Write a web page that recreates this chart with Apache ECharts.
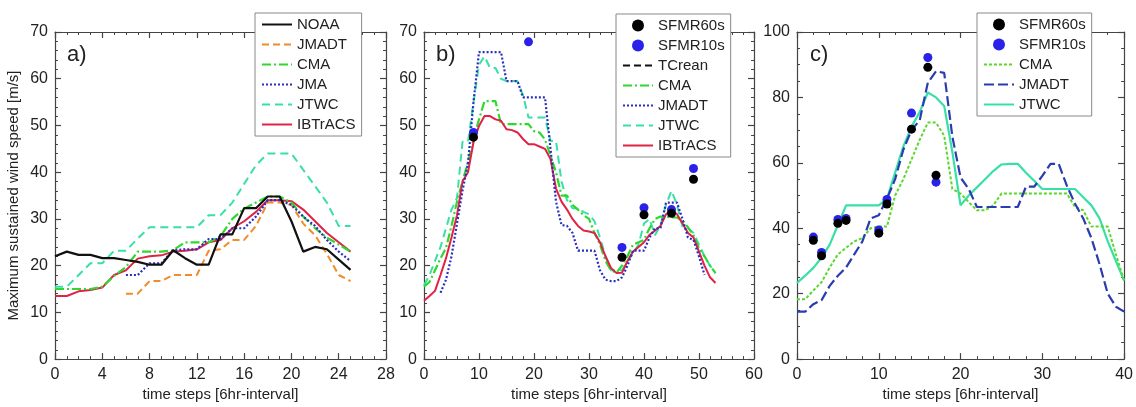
<!DOCTYPE html>
<html><head><meta charset="utf-8">
<script src="https://cdn.jsdelivr.net/npm/echarts@6/dist/echarts.min.js"></script>
<style>html,body{margin:0;padding:0;background:#fff}#c{width:1136px;height:407px}</style>
</head><body><div id="c"></div>
<script>
// ---------- Panel a (start time step of each series given separately) ----------
const aNOAA_t0 = 0;
const aNOAA = [22.0,23.0,22.3,22.3,21.6,21.6,21.2,20.8,20.2,20.2,23.3,21.6,20.2,20.2,26.7,26.7,32.3,32.3,34.8,34.8,29.5,23.0,24.0,23.5,21.3,19.1];
const aJMADT_t0 = 6;
const aJMADT = [14.0,14.0,16.7,16.7,18.0,18.0,18.0,23.2,23.5,25.5,25.5,28.5,33.5,33.5,33.0,29.0,26.5,22.5,18.0,16.7];
const aCMA_t0 = 0;
const aCMA = [15.0,15.0,15.0,15.0,15.5,17.8,19.7,23.0,23.0,23.0,23.3,25.0,25.0,25.0,26.3,30.0,32.2,33.5,34.8,34.8,33.5,30.5,28.0,26.0,24.5,23.0];
const aJMA_t0 = 6;
const aJMA = [18.0,18.0,20.5,20.5,23.3,23.5,23.5,25.7,25.7,28.0,28.0,30.5,34.0,34.0,33.0,30.5,28.5,25.5,23.0,21.0];
const aJTWC_t0 = 0;
const aJTWC = [15.5,15.5,18.0,20.5,20.5,23.2,23.2,25.8,28.2,28.2,28.2,28.2,28.2,30.8,30.8,33.5,37.5,41.5,44.0,44.0,44.0,40.5,37.0,33.5,28.5,28.5];
const aIBT_t0 = 0;
const aIBT = [13.5,13.5,14.5,14.8,15.3,18.0,19.0,21.5,22.0,22.2,23.0,23.2,23.5,25.0,25.5,28.0,29.5,31.5,34.0,34.0,33.8,32.0,29.5,27.0,25.0,23.0];

// ---------- Panel b ----------
const bIBT_t0 = 0;
const bIBT = [12.5,13.5,14.6,18,21.6,26,30.8,38,40,46.4,49.9,52,52,51.3,51,49.2,49,48.5,47.1,46,46,45.5,45,42.8,36.5,33.7,32,30,28.5,27.5,27.3,27,25,22,19.5,18.4,18.5,21,23,24,25,26.6,27.5,28.5,31,31.9,31,29,27,26,23,20,17.5,16.3];
const bCMA_t0 = 0;
const bCMA = [15.5,16.5,19,21.5,23.8,28.5,33.7,38,42.2,47,51.3,55.2,55.2,55.2,50.3,50.3,50.3,50.3,50.3,50.3,48.8,48.5,47,43.5,40,35,35,33,32,30.8,30,27,24.5,21,19,18.5,20,22,24.5,25,25.5,28,30,30.5,30.5,30.3,30.3,29.6,28.2,26.5,23.8,22,20,18.4];
const bJTWC_t0 = 0;
const bJTWC = [15.8,18,21,24,28,32,34.5,46.5,46.5,55,63,64.8,62.3,62.3,60,59.5,59.5,59.5,56.5,51.7,51.7,51.7,51.7,46.7,46.7,38,34,32.3,32.3,31.5,31,29.5,26,22,19,19,19,21,22.5,24.5,29,30,26.5,28.7,33,36,33,28.4,28,27,24.5,22,20,18.4];
const bJMADT_t0 = 3;
const bJMADT = [14.2,17,22,29,36,42,55,65.7,65.7,65.7,65.7,65.7,59.5,59.5,59.5,56,56,56,56,56,45,33.7,28.7,28.5,27,23.2,23.2,23.2,23.2,19,17,16.7,16.7,17.5,20,23.2,23.2,23.2,26,28,28,33.5,33.5,33.5,30,26,25.5,22,18];
const bTCrean = [];
const bSFMR60_t = [9,36,40,45,49];
const bSFMR60 = [47.5,21.8,30.9,31.2,38.5];
const bSFMR10_t = [9,19,36,40,45,49];
const bSFMR10 = [48.5,67.9,23.9,32.4,32.0,40.8];

// ---------- Panel c ----------
const cCMA_t0 = 0;
const cCMA = [18.3,18.3,21,23.5,28,32,34,36,37,40,40.5,40.5,50,55,61,67,72.3,72.3,68.3,52,50.6,48,45.5,45.5,47,50.6,50.6,50.6,50.6,50.6,50.6,50.6,50.6,50.6,46.5,45.5,40.5,40.5,40.5,32,24];
const cJMADT_t0 = 0;
const cJMADT = [14.5,14.5,16.8,18,22.4,25.5,28,32,36,43,44,49,55,64,70,73,84.5,88,87.5,68,55.5,52,46.5,46.5,46.5,46.5,46.5,46.5,52.7,52.7,56,59.7,59.7,53,47.5,43,37,29,20,16,14.5];
const cJTWC_t0 = 0;
const cJTWC = [23.3,25.5,27.9,31,35,41,47,47,47,47,47,49,57,65,71,75.5,81.5,80,77.4,63.3,47,50,52.5,55,57.5,59.5,59.7,59.7,57,54.5,52,52,52,52,52,49.5,47,43,36,30,24];
const cSFMR_t = [2,3,5,6,10,11,14,16,17];
const cSFMR60 = [36.3,31.6,41.5,42.4,38.5,47.4,70.3,89.2,56.2];
const cSFMR10 = [37.3,32.6,42.7,43.0,39.5,48.8,75.2,92.2,54.1];

// ---------- Tick labels / titles ----------
const yTitle = 'Maximum sustained wind speed [m/s]';
const xTitle = 'time steps [6hr-interval]';
const panelLabels = ['a)', 'b)', 'c)'];

const FONT = '"Liberation Sans", Arial, Helvetica, sans-serif';
const AX = '#444';

function pairs(t0, vals) { return vals.map((v, i) => [t0 + i, v]); }
function zipTV(ts, vals) { return vals.map((v, i) => [ts[i], v]); }

const grids = [
  { left: 55, right: 750, top: 32, bottom: 45 },
  { left: 424, right: 382, top: 32, bottom: 45 },
  { left: 797, right: 7, top: 32, bottom: 45 }
];

function mkAxis(kind, gridIndex, pos, min, max, interval, minorSplit, showLabel, name) {
  const a = {
    type: 'value', gridIndex, position: pos, min, max, interval,
    axisLine: { show: true, onZero: false, lineStyle: { color: AX, width: 1.2 } },
    axisTick: { show: true, inside: true, length: 6, lineStyle: { color: AX, width: 1.2 } },
    minorTick: { show: true, splitNumber: minorSplit, length: 3, lineStyle: { color: AX, width: 1 } },
    splitLine: { show: false },
    axisLabel: { show: showLabel, color: '#222', fontSize: 16, fontFamily: FONT, margin: 7 }
  };
  if (name) {
    a.name = name; a.nameLocation = 'middle';
    a.nameTextStyle = { fontSize: 15, color: '#222', fontFamily: FONT };
    a.nameGap = kind === 'x' ? 27 : 34;
  }
  return a;
}

const xAxis = [
  mkAxis('x', 0, 'bottom', 0, 28, 4, 4, true, xTitle),
  mkAxis('x', 0, 'top', 0, 28, 4, 4, false),
  mkAxis('x', 1, 'bottom', 0, 60, 10, 5, true, xTitle),
  mkAxis('x', 1, 'top', 0, 60, 10, 5, false),
  mkAxis('x', 2, 'bottom', 0, 40, 10, 5, true, xTitle),
  mkAxis('x', 2, 'top', 0, 40, 10, 5, false)
];
const yAxis = [
  mkAxis('y', 0, 'left', 0, 70, 10, 5, true, yTitle),
  mkAxis('y', 0, 'right', 0, 70, 10, 5, false),
  mkAxis('y', 1, 'left', 0, 70, 10, 5, true),
  mkAxis('y', 1, 'right', 0, 70, 10, 5, false),
  mkAxis('y', 2, 'left', 0, 100, 20, 4, true),
  mkAxis('y', 2, 'right', 0, 100, 20, 4, false)
];

function line(name, panel, data, color, type, width, z) {
  return {
    type: 'line', name, xAxisIndex: panel * 2, yAxisIndex: panel * 2, data,
    symbol: 'none', showSymbol: false, animation: false, z: z || 2,
    lineStyle: { color, type, width: width || 2 }, itemStyle: { color }
  };
}
function dots(name, panel, data, color, z) {
  return {
    type: 'scatter', name, xAxisIndex: panel * 2, yAxisIndex: panel * 2, data,
    symbol: 'circle', symbolSize: 9, animation: false, z: z,
    itemStyle: { color, opacity: 1 }
  };
}

const C_ORANGE = '#f08c2a', C_GREEN = '#2ed82e', C_BLUE = '#2a2fc0', C_MINT = '#38e0a6',
      C_RED = '#e02245', C_DBLUE = '#2b3bb0', C_LGREEN = '#5ad82a';

const series = [
  line('a:JTWC', 0, pairs(aJTWC_t0, aJTWC), C_MINT, [8, 5], 2, 2),
  line('a:JMADT', 0, pairs(aJMADT_t0, aJMADT), C_ORANGE, [7, 4], 2, 3),
  line('a:CMA', 0, pairs(aCMA_t0, aCMA), C_GREEN, [9, 3, 2, 3], 2.2, 4),
  line('a:JMA', 0, pairs(aJMA_t0, aJMA), C_BLUE, [2, 2], 2.2, 5),
  line('a:IBTrACS', 0, pairs(aIBT_t0, aIBT), C_RED, 'solid', 2, 3),
  line('a:NOAA', 0, pairs(aNOAA_t0, aNOAA), '#111', 'solid', 2.2, 6),

  line('b:TCrean', 1, bTCrean, '#111', [7, 4], 2, 2),
  line('b:JTWC', 1, pairs(bJTWC_t0, bJTWC), C_MINT, [8, 5], 2, 2),
  line('b:CMA', 1, pairs(bCMA_t0, bCMA), C_GREEN, [9, 3, 2, 3], 2.2, 3),
  line('b:IBTrACS', 1, pairs(bIBT_t0, bIBT), C_RED, 'solid', 2, 4),
  line('b:JMADT', 1, pairs(bJMADT_t0, bJMADT), C_BLUE, [2, 2], 2.2, 5),
  dots('b:SFMR10s', 1, zipTV(bSFMR10_t, bSFMR10), '#2a22e8', 8),
  dots('b:SFMR60s', 1, zipTV(bSFMR60_t, bSFMR60), '#000', 9),

  line('c:CMA', 2, pairs(cCMA_t0, cCMA), C_LGREEN, [3, 2], 2, 3),
  line('c:JTWC', 2, pairs(cJTWC_t0, cJTWC), C_MINT, 'solid', 2.2, 2),
  line('c:JMADT', 2, pairs(cJMADT_t0, cJMADT), C_DBLUE, [10, 4], 2.2, 4),
  dots('c:SFMR10s', 2, zipTV(cSFMR_t, cSFMR10), '#2a22e8', 8),
  dots('c:SFMR60s', 2, zipTV(cSFMR_t, cSFMR60), '#000', 9)
];

function legend(left, top, names) {
  return {
    orient: 'vertical', left, top,
    data: names.map(n => n.indexOf('SFMR') >= 0 ? { name: n } : { name: n, itemStyle: { opacity: 0 } }),
    backgroundColor: '#fff', borderColor: '#888', borderWidth: 1,
    padding: [4, 6, 4, 6], itemGap: 5, itemWidth: 30, itemHeight: 12,
    selectedMode: false, z: 20,
    formatter: n => n.slice(2),
    textStyle: { fontSize: 15, color: '#222', fontFamily: FONT, lineHeight: 14 }
  };
}

const option = {
  animation: false,
  backgroundColor: '#fff',
  grid: grids,
  xAxis, yAxis, series,
  legend: [
    legend(255, 13, ['a:NOAA', 'a:JMADT', 'a:CMA', 'a:JMA', 'a:JTWC', 'a:IBTrACS']),
    legend(616, 14, ['b:SFMR60s', 'b:SFMR10s', 'b:TCrean', 'b:CMA', 'b:JMADT', 'b:JTWC', 'b:IBTrACS']),
    legend(977, 13, ['c:SFMR60s', 'c:SFMR10s', 'c:CMA', 'c:JMADT', 'c:JTWC'])
  ],
  graphic: [
    { type: 'text', left: 67, top: 44, style: { text: panelLabels[0], fill: '#222', font: '22px ' + FONT } },
    { type: 'text', left: 436, top: 44, style: { text: panelLabels[1], fill: '#222', font: '22px ' + FONT } },
    { type: 'text', left: 810, top: 44, style: { text: panelLabels[2], fill: '#222', font: '22px ' + FONT } }
  ]
};

const chart = echarts.init(document.getElementById('c'), null, { renderer: 'canvas' });
chart.setOption(option);
</script>
</body></html>
